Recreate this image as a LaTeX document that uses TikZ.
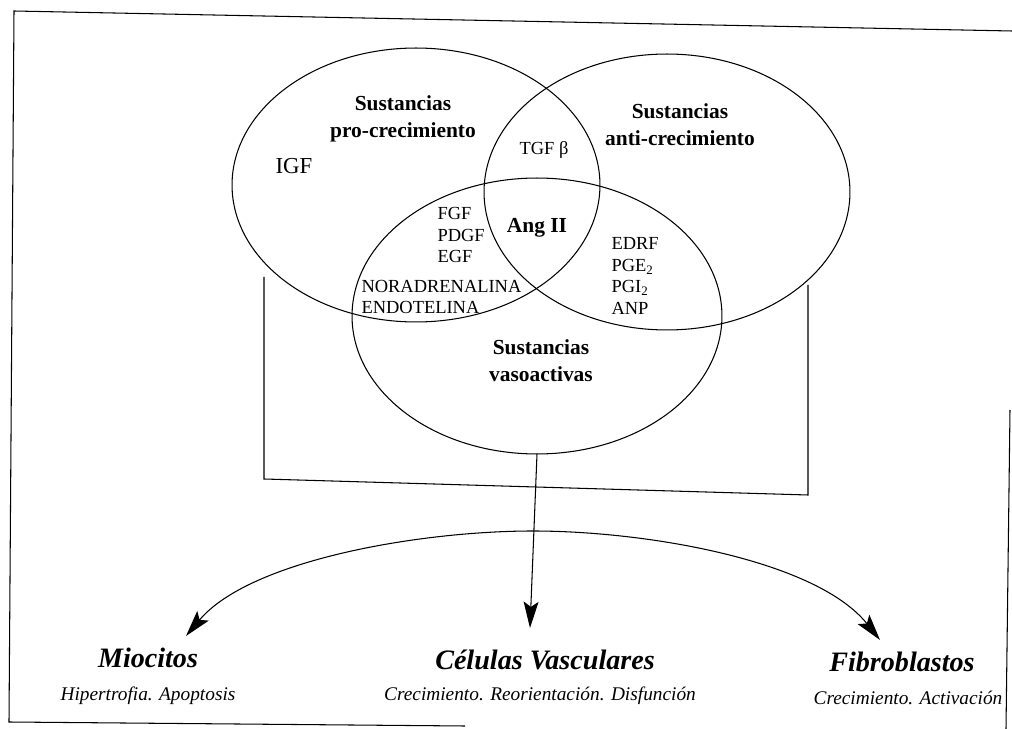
\documentclass[tikz,border=0pt]{standalone}
\usepackage{fontspec}
\setmainfont{Liberation Serif}
\usetikzlibrary{calc,arrows.meta,shapes.geometric}

\tikzset{
  conj/.style={draw,ellipse,line width=0.6pt,inner sep=0pt,outer sep=0pt},
  sust/.style={inner sep=0pt,align=center,font=\bfseries\fontsize{12.2}{15.3}\selectfont},
  lista/.style={inner sep=0pt,align=left,font=\fontsize{10.5}{12.4}\selectfont},
  celula/.style={inner sep=0pt,font=\bfseries\itshape\fontsize{16}{18}\selectfont},
  efecto/.style={inner sep=0pt,font=\itshape\fontsize{11}{13}\selectfont},
  flecha/.style={line width=0.6pt,-{Stealth[length=15pt,width=8.5pt,inset=3pt]}}
}

\begin{document}
\begin{tikzpicture}[x=0.02cm,y=-0.02cm,line width=0.6pt]
    \useasboundingbox (0,0) rectangle (1012,729);
    \begin{scope}[shift={(0,0)}]
      % marco
      \coordinate (M1) at (14,11);
      \coordinate (M2) at (1012,31);
      \coordinate (M3) at (9,722);
      \coordinate (M4) at (465,726);
      \coordinate (M5) at (1010,410);
      \coordinate (M6) at (1006,729);
      \draw (M2)--(M1)--(M3)--(M4) (M5)--(M6);

      \node[conj,minimum width=7.36cm,minimum height=5.48cm] (pro) at (416,185) {};
      \node[conj,minimum width=7.32cm,minimum height=5.52cm] (anti) at (667,192) {};
      \node[conj,minimum width=7.40cm,minimum height=5.52cm] (vaso) at (537,316) {};

      \node[sust] (tpro) at (403,119) {Sustancias\\pro-crecimiento};
      \node[sust] (tanti) at (680,125) {Sustancias\\anti-crecimiento};
      \node[sust] (tvaso) at (541,361) {Sustancias\\vasoactivas};

      \node[lista,font=\fontsize{13}{15}\selectfont] (igf) at (294,166) {IGF};
      \node[lista] (tgf) at (544,150) {TGF β};
      \node[sust] (ang) at (537,228) {Ang II};
      \node[lista,anchor=west] (fgf) at (437,235) {FGF\\PDGF\\EGF};
      \node[lista,anchor=west] (nor) at (361,297) {NORADRENALINA\\ENDOTELINA};
      \node[lista,anchor=west] (edrf) at (611,276)
        {EDRF\\PGE\textsubscript{2}\\PGI\textsubscript{2}\\ANP};

      % corchete
      \coordinate (C1) at (264,277);
      \coordinate (C2) at (264,479);
      \coordinate (C3) at (808,495);
      \coordinate (C4) at (808,285);
      \draw (C1)--(C2)--(C3)--(C4);

      \coordinate (T) at (533,531);
      \coordinate (TL) at (186,636);
      \coordinate (TC) at (530,628);
      \coordinate (TR) at (880,640);
      \draw[flecha] (vaso.south)--(TC);
      \draw[flecha] (T) .. controls (420,531) and (250,560) .. (TL);
      \draw[flecha] (T) .. controls (646,531) and (816,560) .. (TR);

      \node[celula] (mio) at (148,658) {Miocitos};
      \node[efecto] (emio) at (148,696) {Hipertrofia. Apoptosis};
      \node[celula] (cel) at (545,660) {Células Vasculares};
      \node[efecto] (ecel) at (540,696) {Crecimiento. Reorientación. Disfunción};
      \node[celula] (fib) at (902,662) {Fibroblastos};
      \node[efecto] (efib) at (908,698) {Crecimiento. Activación};
    \end{scope}
  \end{tikzpicture}
\end{document}
